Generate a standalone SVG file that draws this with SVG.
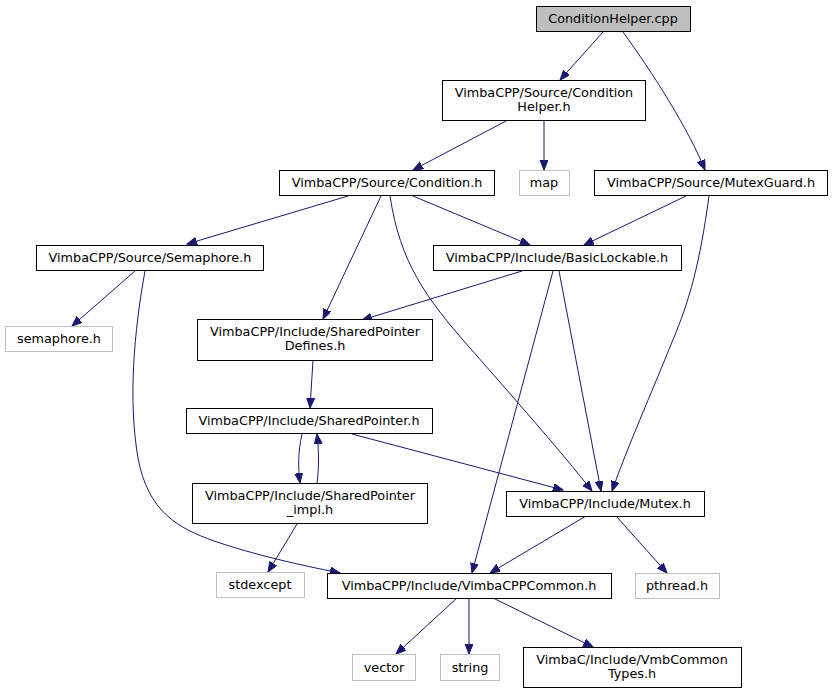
<svg xmlns="http://www.w3.org/2000/svg" width="833" height="693" viewBox="0 0 833 693">
<style>
  .n rect { fill: #ffffff; stroke: #000000; stroke-width: 1; }
  .root rect { fill: #bfbfbf; stroke: #000000; stroke-width: 1; }
  .ext rect { fill: #ffffff; stroke: #bfbfbf; stroke-width: 1; }
  text { font-family: "DejaVu Sans", "Liberation Sans", sans-serif; font-size: 12.8px; fill: #000000; text-anchor: middle; }
  .e path { fill: none; stroke: #191970; stroke-width: 1; marker-end: url(#ah); }
</style>
<defs>
  <marker id="ah" markerUnits="userSpaceOnUse" markerWidth="12" markerHeight="10" refX="10" refY="4" orient="auto">
    <path d="M0,0 L10,4 L0,8 z" fill="#191970" stroke="#191970" stroke-width="1"/>
  </marker>
</defs>
<rect width="833" height="693" fill="#ffffff"/>
<g id="edges" class="e">
  <path d="M603,32 L560,80"/>
  <path d="M623,32 C652,72 688,128 705,170"/>
  <path d="M506,121 L413,170"/>
  <path d="M544,121 L544,170"/>
  <path d="M348,196 L187,244"/>
  <path d="M381,196 L323,319"/>
  <path d="M390,196 C400,262 425,297 470,348 C512,396 560,450 592,491"/>
  <path d="M413,196 L530,245"/>
  <path d="M686,196 L584,245"/>
  <path d="M709,196 C700,262 690,300 672,342 C652,392 627,448 612,491"/>
  <path d="M522,271 L362,320"/>
  <path d="M553,271 L472,573"/>
  <path d="M559,271 L601,491"/>
  <path d="M135,271 L72,326"/>
  <path d="M145,271 C134,332 128,400 138,458 C148,512 178,528 214,541 C255,555 300,565 340,573"/>
  <path d="M313,360 L310,408"/>
  <path d="M302,434 C298,452 298,468 300,483"/>
  <path d="M317,483 C319,468 319,450 317,434"/>
  <path d="M352,434 L563,490"/>
  <path d="M297,524 L268,572"/>
  <path d="M586,516 L490,573"/>
  <path d="M616,516 L667,573"/>
  <path d="M457,598 L396,654"/>
  <path d="M469,598 L469,654"/>
  <path d="M493,598 L593,647"/>
</g>
<g id="node0" class="root"><rect x="536.5" y="6.5" width="154" height="25"/><text x="613" y="23">ConditionHelper.cpp</text></g>
<g id="node1" class="n"><rect x="442.5" y="80.5" width="203" height="40"/><text x="544" y="97">VimbaCPP/Source/Condition</text><text x="544" y="111">Helper.h</text></g>
<g id="node2" class="n"><rect x="279.5" y="170.5" width="215" height="25"/><text x="387" y="187">VimbaCPP/Source/Condition.h</text></g>
<g id="node3" class="ext"><rect x="519.5" y="170.5" width="50" height="25"/><text x="544" y="187">map</text></g>
<g id="node4" class="n"><rect x="594.5" y="170.5" width="233" height="25"/><text x="711" y="187">VimbaCPP/Source/MutexGuard.h</text></g>
<g id="node5" class="n"><rect x="36.5" y="245.5" width="227" height="25"/><text x="150" y="262">VimbaCPP/Source/Semaphore.h</text></g>
<g id="node6" class="n"><rect x="433.5" y="245.5" width="248" height="25"/><text x="557" y="262">VimbaCPP/Include/BasicLockable.h</text></g>
<g id="node7" class="ext"><rect x="5.5" y="326.5" width="107" height="25"/><text x="59" y="343">semaphore.h</text></g>
<g id="node8" class="n"><rect x="197.5" y="319.5" width="235" height="41"/><text x="315" y="336">VimbaCPP/Include/SharedPointer</text><text x="315" y="350">Defines.h</text></g>
<g id="node9" class="n"><rect x="186.5" y="408.5" width="246" height="25"/><text x="309" y="425">VimbaCPP/Include/SharedPointer.h</text></g>
<g id="node10" class="n"><rect x="192.5" y="483.5" width="235" height="40"/><text x="310" y="500">VimbaCPP/Include/SharedPointer</text><text x="310" y="514">_impl.h</text></g>
<g id="node11" class="ext"><rect x="216.5" y="572.5" width="88" height="25"/><text x="260" y="589">stdexcept</text></g>
<g id="node12" class="n"><rect x="327.5" y="573.5" width="284" height="25"/><text x="469" y="590">VimbaCPP/Include/VimbaCPPCommon.h</text></g>
<g id="node13" class="n"><rect x="506.5" y="491.5" width="198" height="25"/><text x="605" y="508">VimbaCPP/Include/Mutex.h</text></g>
<g id="node14" class="ext"><rect x="635.5" y="573.5" width="84" height="25"/><text x="677" y="590">pthread.h</text></g>
<g id="node15" class="ext"><rect x="352.5" y="654.5" width="63" height="26"/><text x="384" y="672">vector</text></g>
<g id="node16" class="ext"><rect x="440.5" y="654.5" width="59" height="26"/><text x="470" y="672">string</text></g>
<g id="node17" class="n"><rect x="523.5" y="647.5" width="218" height="40"/><text x="632" y="664">VimbaC/Include/VmbCommon</text><text x="632" y="678">Types.h</text></g>
</svg>
